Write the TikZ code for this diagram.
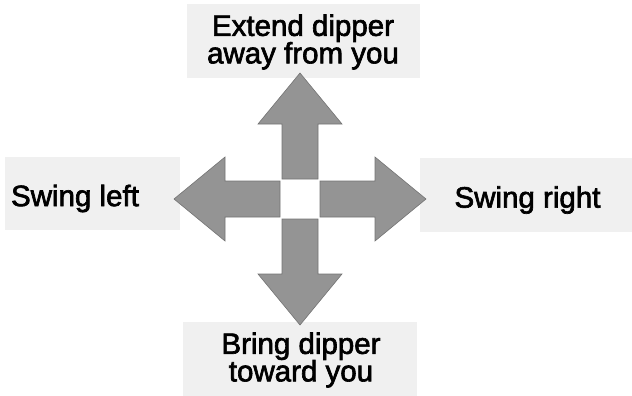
\documentclass[tikz,border=0pt]{standalone}
\usepackage{fontspec}
\setmainfont{Liberation Sans}
\newfontfamily\labface{Liberation Sans}[FakeBold=2.2]
\usetikzlibrary{calc, positioning}

\newcommand\labfont{\labface\fontsize{29.5}{27.5}\selectfont\lineskiplimit=-30pt\relax}

\tikzset{
  lab/.style={inner sep=0pt, align=center, font=\labfont},
  patch/.style={fill=black!6},
  arr/.style={fill=black!42, draw=black!55, line width=0.6pt},
}

\begin{document}
\begin{tikzpicture}[x=1pt, y=-1pt]
\useasboundingbox (0,0) rectangle (632,396);
\def\g{20}
\def\b{75}
\def\t{126}
\def\w{18}
\def\h{42}

\coordinate (C) at (300,199);

\fill[patch] (187,4) rectangle (420,78);
\fill[patch] (183,322) rectangle (417,396);
\fill[patch] (5,157) rectangle (180,230);
\fill[patch] (420,158) rectangle (632,232);

\foreach \ang in {0,90,180,270}{
  \begin{scope}[shift={(C)}, rotate=\ang]
    \fill[arr] (\g,-\w) -- (\b,-\w) -- (\b,-\h) -- (\t,0)
      -- (\b,\h) -- (\b,\w) -- (\g,\w) -- cycle;
  \end{scope}
}

\node[lab] (extend) at (303,42) {Extend dipper\\away from you};
\node[lab] (bring) at (301,360) {Bring dipper\\toward you};
\node[lab] (swingl) at (75,198.5) {Swing left};
\node[lab] (swingr) at (527.5,200) {Swing right};
\end{tikzpicture}
\end{document}
